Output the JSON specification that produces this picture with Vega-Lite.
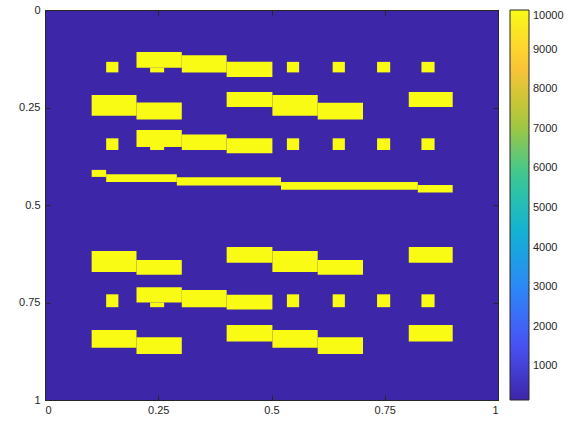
{
  "$schema": "https://vega.github.io/schema/vega-lite/v6.json",
  "width": 453,
  "height": 390,
  "autosize": {"type": "none"},
  "padding": {"left": 45, "top": 10, "right": 72, "bottom": 23},
  "background": "white",
  "config": {
    "view": {"stroke": "#262626", "strokeWidth": 1},
    "font": "Liberation Sans",
    "axis": {
      "domainColor": "#262626",
      "domainWidth": 1,
      "tickColor": "#262626",
      "tickWidth": 1,
      "labelColor": "#262626",
      "labelFontSize": 11,
      "labelFont": "Liberation Sans",
      "grid": false,
      "title": null
    }
  },
  "datasets": {
    "bg": [{"x": 0, "x2": 1, "y": 0, "y2": 1, "v": 150}],
    "cells": [
      {"x": 0.135, "x2": 0.162, "y": 0.133, "y2": 0.160, "v": 10000},
      {"x": 0.202, "x2": 0.302, "y": 0.108, "y2": 0.148, "v": 10000},
      {"x": 0.232, "x2": 0.263, "y": 0.148, "y2": 0.160, "v": 10000},
      {"x": 0.302, "x2": 0.401, "y": 0.116, "y2": 0.160, "v": 10000},
      {"x": 0.401, "x2": 0.502, "y": 0.133, "y2": 0.172, "v": 10000},
      {"x": 0.534, "x2": 0.561, "y": 0.133, "y2": 0.160, "v": 10000},
      {"x": 0.635, "x2": 0.662, "y": 0.133, "y2": 0.160, "v": 10000},
      {"x": 0.733, "x2": 0.762, "y": 0.133, "y2": 0.160, "v": 10000},
      {"x": 0.831, "x2": 0.860, "y": 0.133, "y2": 0.160, "v": 10000},

      {"x": 0.103, "x2": 0.202, "y": 0.218, "y2": 0.271, "v": 10000},
      {"x": 0.202, "x2": 0.302, "y": 0.237, "y2": 0.281, "v": 10000},
      {"x": 0.401, "x2": 0.502, "y": 0.210, "y2": 0.249, "v": 10000},
      {"x": 0.502, "x2": 0.602, "y": 0.218, "y2": 0.271, "v": 10000},
      {"x": 0.602, "x2": 0.702, "y": 0.238, "y2": 0.281, "v": 10000},
      {"x": 0.803, "x2": 0.900, "y": 0.210, "y2": 0.249, "v": 10000},

      {"x": 0.135, "x2": 0.162, "y": 0.329, "y2": 0.359, "v": 10000},
      {"x": 0.202, "x2": 0.302, "y": 0.308, "y2": 0.351, "v": 10000},
      {"x": 0.232, "x2": 0.263, "y": 0.351, "y2": 0.359, "v": 10000},
      {"x": 0.302, "x2": 0.401, "y": 0.319, "y2": 0.359, "v": 10000},
      {"x": 0.401, "x2": 0.502, "y": 0.329, "y2": 0.367, "v": 10000},
      {"x": 0.534, "x2": 0.561, "y": 0.329, "y2": 0.359, "v": 10000},
      {"x": 0.635, "x2": 0.662, "y": 0.329, "y2": 0.359, "v": 10000},
      {"x": 0.733, "x2": 0.762, "y": 0.329, "y2": 0.359, "v": 10000},
      {"x": 0.831, "x2": 0.860, "y": 0.329, "y2": 0.359, "v": 10000},

      {"x": 0.103, "x2": 0.135, "y": 0.410, "y2": 0.428, "v": 10000},
      {"x": 0.135, "x2": 0.291, "y": 0.421, "y2": 0.441, "v": 10000},
      {"x": 0.291, "x2": 0.521, "y": 0.429, "y2": 0.450, "v": 10000},
      {"x": 0.521, "x2": 0.823, "y": 0.441, "y2": 0.461, "v": 10000},
      {"x": 0.823, "x2": 0.900, "y": 0.449, "y2": 0.468, "v": 10000},

      {"x": 0.103, "x2": 0.202, "y": 0.618, "y2": 0.672, "v": 10000},
      {"x": 0.202, "x2": 0.302, "y": 0.641, "y2": 0.679, "v": 10000},
      {"x": 0.401, "x2": 0.502, "y": 0.608, "y2": 0.648, "v": 10000},
      {"x": 0.502, "x2": 0.602, "y": 0.618, "y2": 0.672, "v": 10000},
      {"x": 0.602, "x2": 0.702, "y": 0.641, "y2": 0.679, "v": 10000},
      {"x": 0.803, "x2": 0.900, "y": 0.608, "y2": 0.648, "v": 10000},

      {"x": 0.135, "x2": 0.162, "y": 0.729, "y2": 0.762, "v": 10000},
      {"x": 0.202, "x2": 0.302, "y": 0.711, "y2": 0.750, "v": 10000},
      {"x": 0.232, "x2": 0.263, "y": 0.750, "y2": 0.762, "v": 10000},
      {"x": 0.302, "x2": 0.401, "y": 0.718, "y2": 0.762, "v": 10000},
      {"x": 0.401, "x2": 0.502, "y": 0.730, "y2": 0.768, "v": 10000},
      {"x": 0.534, "x2": 0.561, "y": 0.729, "y2": 0.762, "v": 10000},
      {"x": 0.635, "x2": 0.662, "y": 0.729, "y2": 0.762, "v": 10000},
      {"x": 0.733, "x2": 0.762, "y": 0.729, "y2": 0.762, "v": 10000},
      {"x": 0.831, "x2": 0.860, "y": 0.729, "y2": 0.762, "v": 10000},

      {"x": 0.103, "x2": 0.202, "y": 0.8205, "y2": 0.866, "v": 10000},
      {"x": 0.202, "x2": 0.302, "y": 0.839, "y2": 0.882, "v": 10000},
      {"x": 0.401, "x2": 0.502, "y": 0.808, "y2": 0.850, "v": 10000},
      {"x": 0.502, "x2": 0.602, "y": 0.8205, "y2": 0.866, "v": 10000},
      {"x": 0.602, "x2": 0.702, "y": 0.839, "y2": 0.882, "v": 10000},
      {"x": 0.803, "x2": 0.900, "y": 0.808, "y2": 0.850, "v": 10000}
    ]
  },
  "resolve": {"axis": {"x": "independent", "y": "independent"}},
  "layer": [
    {
      "data": {"name": "bg"},
      "mark": {"type": "rect"},
      "encoding": {
        "x": {
          "field": "x", "type": "quantitative",
          "scale": {"domain": [0, 1], "nice": false, "zero": false},
          "axis": {"orient": "bottom", "zindex": 1, "values": [0, 0.25, 0.5, 0.75, 1], "labelExpr": "'' + datum.value", "tickSize": -5, "labelPadding": 9}
        },
        "x2": {"field": "x2"},
        "y": {
          "field": "y", "type": "quantitative",
          "scale": {"domain": [0, 1], "nice": false, "zero": false, "reverse": true},
          "axis": {"orient": "left", "zindex": 1, "values": [0, 0.25, 0.5, 0.75, 1], "labelExpr": "'' + datum.value", "tickSize": -5, "labelPadding": 10}
        },
        "y2": {"field": "y2"},
        "color": {
          "field": "v", "type": "quantitative",
          "scale": {
            "domain": [150, 10000],
            "interpolate": "rgb",
            "range": ["#3e26a8", "#4852f4", "#2d87f7", "#12b1d6", "#37c897", "#abc739", "#fec338", "#f9fb15"]
          },
          "legend": {
            "orient": "none",
            "legendX": 465,
            "legendY": 0,
            "direction": "vertical",
            "title": null,
            "gradientLength": 390,
            "gradientThickness": 19,
            "gradientStrokeColor": "#262626",
            "gradientStrokeWidth": 1,
            "values": [1000, 2000, 3000, 4000, 5000, 6000, 7000, 8000, 9000, 10000],
            "format": "d",
            "labelFontSize": 11,
            "labelFont": "Liberation Sans",
            "labelColor": "#262626",
            "labelOffset": 4,
            "labelBaseline": "middle",
            "labelAlign": "left",
            "labelOverlap": false
          }
        }
      }
    },
    {
      "data": {"name": "cells"},
      "mark": {"type": "rect"},
      "encoding": {
        "x": {
          "field": "x", "type": "quantitative",
          "axis": {"orient": "top", "zindex": 1, "values": [0, 0.25, 0.5, 0.75, 1], "labels": false, "tickSize": -5}
        },
        "x2": {"field": "x2"},
        "y": {
          "field": "y", "type": "quantitative",
          "axis": {"orient": "right", "zindex": 1, "values": [0, 0.25, 0.5, 0.75, 1], "labels": false, "tickSize": -5}
        },
        "y2": {"field": "y2"},
        "color": {"field": "v", "type": "quantitative"}
      }
    }
  ]
}
